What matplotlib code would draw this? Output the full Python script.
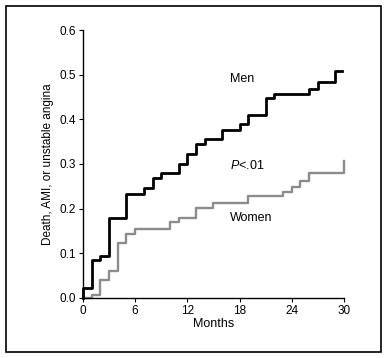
import matplotlib
matplotlib.use("Agg")
import matplotlib.pyplot as plt
from matplotlib.patches import Rectangle

plt.rcParams['font.family'] = ['Liberation Sans Narrow', 'Liberation Sans', 'DejaVu Sans']
plt.rcParams['mathtext.fontset'] = 'custom'
plt.rcParams['mathtext.it'] = 'Liberation Sans:italic'
plt.rcParams['mathtext.rm'] = 'Liberation Sans'

# step times (months) and cumulative event rates
men_t = [0, 0, 1, 2, 3, 5, 7, 8, 9, 11, 12, 13, 14, 16, 18, 19, 21, 22, 26, 27, 29, 29.8]
men_y = [0.0, 0.022, 0.084, 0.093, 0.179, 0.233, 0.246, 0.268, 0.279, 0.300, 0.322,
         0.344, 0.355, 0.376, 0.389, 0.410, 0.447, 0.456, 0.469, 0.483, 0.508, 0.508]
women_t = [0, 1, 2, 3, 4, 5, 6, 10, 11, 13, 15, 19, 23, 24, 25, 26, 30, 30]
women_y = [0.0, 0.007, 0.039, 0.061, 0.122, 0.143, 0.155, 0.170, 0.179, 0.202, 0.212,
           0.228, 0.238, 0.248, 0.261, 0.279, 0.279, 0.306]

xticks = [0, 6, 12, 18, 24, 30]
yticks = [0.0, 0.1, 0.2, 0.3, 0.4, 0.5, 0.6]

fig = plt.figure(figsize=(3.86, 3.58), dpi=100)
ax = fig.add_axes([0.215, 0.168, 0.676, 0.748])

ax.step(women_t, women_y, where='post', color='#8c8c8c', linewidth=1.7, clip_on=False)
ax.step(men_t, men_y, where='post', color='black', linewidth=2.0, clip_on=False)

ax.set_xlim(0, 30)
ax.set_ylim(0, 0.6)
ax.set_xticks(xticks)
ax.set_yticks(yticks)
ax.set_yticklabels([f"{v:.1f}" for v in yticks])
ax.tick_params(labelsize=8.5, length=3, width=0.8, pad=2)
for s in ['top', 'right']:
    ax.spines[s].set_visible(False)
for s in ['left', 'bottom']:
    ax.spines[s].set_linewidth(1.0)

ax.set_xlabel('Months', fontsize=9, labelpad=1)
ax.set_ylabel('Death, AMI, or unstable angina', fontsize=8.5, labelpad=4)

ax.text(16.9, 0.49, 'Men', fontsize=9, va='center', ha='left')
ax.text(16.9, 0.297, r'$P$<.01', fontsize=9, va='center', ha='left')
ax.text(16.9, 0.18, 'Women', fontsize=9, va='center', ha='left')

fig.patches.append(Rectangle((0.015, 0.017), 0.972, 0.965, transform=fig.transFigure,
                             fill=False, edgecolor='black', linewidth=1.2))

fig.savefig('out.png', dpi=100)
